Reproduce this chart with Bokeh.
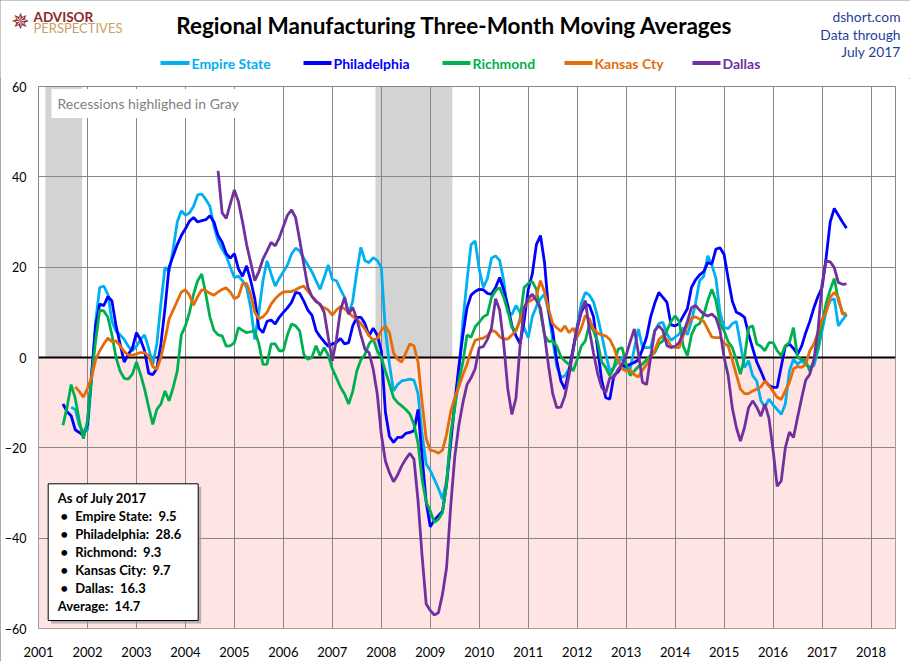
from bokeh.plotting import figure
from bokeh.layouts import column
from bokeh.models import Range1d, FixedTicker, Label, BoxAnnotation, Span
from bokeh.embed import file_html
from bokeh.resources import INLINE

FONT = "Lato"

# ---------------- data (3-month moving averages) ----------------
base_year = 2001
years = list(range(2001, 2019))
y_ticks = [-60, -40, -20, 0, 20, 40, 60]

recession_start = [2001.14, 2007.88]
recession_end = [2001.89, 2009.45]

# first month of each series, as months after Jan 2001
empire_start = 8
philadelphia_start = 6
richmond_start = 6
kansas_start = 9
dallas_start = 44

empire_state = [
    -11, -11.5, -15, -16.5, -16, -5, 8, 15.5, 15.8, 14, 8, 5.8,
    5, 4, 2.5, 1.5, 2.5, 4, 5, 2, -1.5, 3, 12, 20,
    19, 24, 30, 32.5, 31.5, 32, 33.5, 36, 36.2, 35, 33.5, 29,
    25.8, 24, 22.5, 20, 17.7, 18, 17, 15.5, 11, 4, 10, 17,
    21.4, 18.5, 15.8, 17.5, 19, 20.5, 22.9, 24.2, 23.6, 22, 20.5, 19,
    17, 15.1, 17.7, 20.5, 17.3, 17, 15.1, 13.3, 9.6, 12.5, 19, 24.4,
    21.4, 21, 22.1, 21.5, 20, 6, -1.5, -7.4, -6, -5.2, -5, -4.8,
    -5, -8, -17, -23.6, -25, -27, -29, -31.4, -27.3, -18, -11, -3,
    8, 17, 25, 25.8, 19.5, 15.5, 17.5, 22, 22.5, 21.5, 17, 10,
    9.5, 11.5, 10, 6.6, 4.4, 9, 11.3, 13, 14, 10, 4, -2,
    -4.4, -4.1, -2.5, 1.5, 7, 12, 14.4, 13.8, 12.3, 9, 5, 0.7,
    -3, -2.2, -1, 0, -3, -2.5, 2, 6.3, 2.2, 2.2, 2.2, 5.9,
    7.5, 7.8, 5.2, 3.8, 4.5, 5.2, 6.6, 5, 8, 12, 17, 18,
    22.5, 20.5, 17.5, 10, 6.6, 6.4, 7.5, 8, 3, -2.2, -0.7, -4,
    -5.2, -9.5, -11, -9.2, -10.5, -11.5, -12.6, -10.3, -3, -0.4, -1.5, -0.7,
    -1.5, -2.2, -1.8, 1.5, 5.9, 10.3, 12.6, 13, 7, 8.3, 9.5,
]

philadelphia = [
    -10.3, -12, -12.9, -16, -16.6, -17.3, -14.8, -3.7, 7, 11.8, 11.5, 13.5,
    12.5, 7, 3, -1, 0.7, 2, 5.5, 4, 1.5, -3.5, -3.8, -2.5,
    3, 11, 20, 22.5, 25, 27, 28.5, 30.2, 31, 30, 30.3, 30.5,
    31.4, 30, 27, 25.5, 23, 22, 23, 19.6, 18, 20.3, 17, 13,
    6.5, 5.5, 8, 8.3, 7.4, 8.9, 10, 11, 12.2, 14.4, 14.2, 12.5,
    10.5, 9.4, 6, 4.6, 3.5, 2.5, 3, 3.3, 4.2, 3, 3.3, 7,
    8.9, 8.9, 7.5, 4.8, 6.5, 5, 1.5, -12, -17.5, -18.8, -17.7, -17.7,
    -16.8, -16.6, -16.2, -11.5, -22, -32, -37.5, -36, -35, -34, -28, -19,
    -10, -2, 5, 11, 13.8, 14.6, 15.1, 15, 14.2, 14, 15.5, 17.7,
    15, 11.5, 7, 4.8, 3, 8.1, 15, 18.5, 25, 27, 21, 10.3,
    5.9, -0.7, -5.2, -7, -3, 2, 6.5, 10, 11.8, 11.5, 9, 2,
    -5, -8.9, -9.2, -4, -3.2, -1.8, -2, -1.5, -1.1, -0.5, 1.8, 4.5,
    9, 12, 14.4, 13.3, 12.2, 7.2, 7, 7.5, 9.2, 10.8, 15.5, 17.2,
    18.3, 19, 21, 20.7, 24, 24.3, 22.8, 17.5, 12.5, 10, 9.6, 8.9,
    5.2, 2, -1, -3, -5.2, -6.2, -6.6, -6.6, -2, 2.5, 3, 2,
    0.7, 2.5, 5.5, 8, 11, 13.5, 15.5, 22.1, 30, 33, 31.5, 30, 28.6,
]

richmond = [
    -15, -11, -6, -9, -14, -18, -14, -4.4, 3.7, 10.5, 10.3, 8.9,
    5, 0, -3, -4.6, -4.8, -3.7, -1, -3.7, -7, -11, -14.8, -11.5,
    -10.3, -7.4, -9.6, -6.6, -3, 5, 7, 10, 14, 17, 18.5, 14,
    9, 6, 5, 4.8, 2.5, 2.6, 3.3, 6.6, 6, 5.5, 5.7, 5.9,
    3, -1.5, -1.5, 3, 3, 1.5, 1.5, 5, 7.4, 7, 5.9, 0.7,
    -0.4, 0, 2.6, 0.4, 2.2, 0.5, -2.5, -4.5, -6.6, -8.1, -10.3, -7.5,
    -3, -0.5, 0.7, 3, 4.1, 1.5, 0, -3, -5.9, -8.9, -10, -10.7,
    -11.5, -12.5, -14.8, -19, -27, -32, -34, -36.5, -35.8, -34.3, -28, -17,
    -11, -5.2, -1, 5, 4.5, 6.8, 7.8, 9, 9.5, 13.3, 14.8, 15.5,
    13.3, 10.3, 6.6, 5.9, 8.5, 15.5, 16.4, 16.8, 15.1, 10, 5, 3.5,
    3.7, 2.5, 0.2, -0.8, -1.5, -3, -0.5, 2.5, 3.7, 7.4, 5.9, 3.5,
    -1, -2.2, -4.1, -2.2, 1.8, 2.2, -1.5, -4, -3, -2, -1.5, -0.5,
    0.5, 1.1, 3, 3.7, 6, 8, 9.2, 8, 2.5, 0.4, 5, 7,
    7.5, 9.5, 12.6, 15.1, 12.6, 7.5, 5.9, 3.5, 2.2, -0.5, -3.7, 0,
    6.6, 7, 3, 2.5, 1.5, 3.3, 3.3, 1.5, 0.4, 2.6, 3.3, 6.6,
    0, -0.4, -0.7, -3, -0.7, 2.2, 7.4, 12, 15, 17.5, 12.6, 10, 9.3,
]

kansas_city = [
    -6.5, -7.5, -8.8, -6.8, -4.4, -0.5, 1.5, 3, 4.3, 3.5, 3.7, 2.6,
    1.3, 0.6, 0.5, 0.8, 1.1, 1.1, 0.3, -2, -2.6, 0, 4, 8.5,
    10.5, 12.5, 14.5, 15, 13.8, 11.6, 13.5, 15, 14.8, 14.2, 13.8, 14.5,
    15.1, 15.4, 14.5, 13, 13.5, 16.3, 16.4, 14, 10, 8.6, 9, 10,
    11.8, 13, 13.9, 14.5, 14.6, 14.6, 15, 15.5, 15.8, 14.7, 13.6, 12.6,
    11.6, 11, 10.5, 9.4, 10.5, 11.3, 10.8, 9.9, 9.1, 8.5, 7.5, 6.3,
    4.8, 3.9, 4.2, 6, 7, 5.5, 1, -0.4, -1, 1, 3, 2.6,
    -1, -10, -18, -20.5, -20.7, -21.2, -20.5, -17, -12, -8.9, -6.5, -3.8,
    -1.5, 1.5, 3.8, 4.1, 4.3, 4.8, 6, 5.7, 4.6, 4.1, 4.1, 5,
    5.9, 8.2, 11, 12.3, 12.8, 13.7, 17, 14.5, 10.7, 7.5, 6.6, 5.8,
    7, 5.5, 6.5, 4.5, 6.5, 9.3, 8.5, 6.3, 5.4, 5, 4.8, 4,
    2.2, -0.5, -2.5, -3, -2.8, -3.8, -4.3, -2.8, -1.6, 0, 1.5, 4,
    4.8, 4, 2.6, 2.2, 2.2, 4.8, 7.2, 8.7, 9, 8.5, 8, 6.3,
    4.5, 4.4, 4.4, 3.2, 2.5, -0.5, -3.8, -7, -8, -8, -7.4, -7,
    -6.5, -5.2, -6.3, -7.5, -8.8, -9.3, -7.4, -5.5, -2.5, -2, -2.2, -1.5,
    1.5, 3, 5.5, 8.5, 10, 13.3, 14.4, 13.3, 9.6, 9.7,
]

dallas = [
    41.3, 32, 30.8, 34, 37.1, 34.5, 30, 25, 21, 17, 19, 21.8,
    23.6, 25.5, 24.7, 26.5, 29, 31.5, 32.7, 31, 26, 20.7, 15.6, 13.5,
    12.4, 11.8, 10, 4.5, -0.7, 4, 10.5, 13.3, 9.6, 11.1, 8.5, 5,
    1.8, 1.1, -2.5, -8, -17, -22.9, -25.5, -27.5, -26, -24, -22.5, -21.2,
    -22.5, -31.7, -44, -54.6, -56, -57, -56.5, -52.4, -46.5, -33, -22, -15,
    -10, -6, -4.5, -2.5, 2.2, 2.4, 4, 6.5, 13, 10.5, 3, -7,
    -12.6, -9, 2.5, 11, 13, 14, 12.6, 11, 5, -2, -8, -11.1,
    -11, -8.5, -4, 1.5, 6.6, 10.3, 12.6, 6, 1, -3.5, -6.6, -7.8,
    -4.5, -4.4, -2.7, -1.5, 0.5, 3.5, 6.3, 1, -5.5, -6, 0, 5.9,
    7, 6, 2.6, 2.2, 2.5, 3.3, 5.5, 8, 11, 11.5, 10.5, 9.6,
    9.2, 9.6, 8.8, 6, 0, -4, -11.1, -15.5, -18.5, -15.5, -11.1, -9.6,
    -11, -13, -10.3, -13.5, -20.5, -28.5, -27.3, -20, -16.5, -17.7, -13.3, -9,
    -5, -3.7, -0.5, 5.9, 16.2, 21.4, 21.2, 19.9, 16.6, 16.2, 16.3,
]

series_names = ["Empire State", "Philadelphia", "Richmond", "Kansas Cty", "Dallas"]
box_names = ["Empire State", "Philadelphia", "Richmond", "Kansas City", "Dallas"]
series_values = [empire_state, philadelphia, richmond, kansas_city, dallas]
series_starts = [empire_start, philadelphia_start, richmond_start, kansas_start, dallas_start]
series_colors = ["#00B0F0", "#0000FF", "#00B050", "#E46C0A", "#7030A0"]
title_text = "Regional Manufacturing Three-Month Moving Averages"
as_of = "As of July 2017"
source_lines = ["dshort.com", "Data through", "July 2017"]

NB = "\u00a0"
W = 910
H = 661
HDR_H = 78

# ---------------- header (title, logo, legend) ----------------
hdr = figure(width=W, height=HDR_H, x_range=Range1d(0, W), y_range=Range1d(HDR_H, 0),
             x_axis_type=None, y_axis_type=None, output_backend="svg", toolbar_location=None,
             min_border=0, outline_line_color=None,
             background_fill_color="white", border_fill_color="white")
hdr.frame_align = False


def hlabel(X, Y, text, size, color="#000000", bold=False, align="left", font=FONT):
    hdr.add_layout(Label(x=X, y=Y, text=text, text_font=font, text_font_size=size,
                         text_color=color, text_font_style="bold" if bold else "normal",
                         text_align=align, text_baseline="middle"))


hlabel(454, 25, title_text, "22.5px", bold=True, align="center")
hlabel(20, 21, "\u2735", "22px", color="#8B2A2A", align="center", font="DejaVu Sans")
hlabel(33, 16.5, "ADVISOR", "13.5px", color="#8B2A2A", bold=True)
hlabel(33, 27.5, "PERSPECTIVES", "13px", color="#C8A165")
for yy, t in zip([16, 34, 51], source_lines):
    hlabel(900, yy, t, "13.8px", color="#1F3F99", align="right")

legend_x0 = [160, 303, 442, 564, 692]
legend_x1 = [189, 331, 470, 592, 720]
LY = 62.5
hdr.segment(x0=legend_x0, y0=[LY] * 5, x1=legend_x1, y1=[LY] * 5,
            line_color=series_colors, line_width=4)
for b, name, col in zip(legend_x1, series_names, series_colors):
    hlabel(b + 2, LY, name, "14px", color=col, bold=True)

# ---------------- main chart ----------------
X0, X1 = 2001, 2018.5
Y0, Y1 = -60, 60
TOP, FRAME_H = 8, 542
BOT = H - HDR_H - TOP - FRAME_H

p = figure(width=W, height=H - HDR_H, x_range=Range1d(X0, X1), y_range=Range1d(Y0, Y1),
           output_backend="svg", toolbar_location=None,
           min_border_left=38, min_border_right=15, min_border_top=TOP, min_border_bottom=BOT,
           background_fill_color="white", border_fill_color="white")
p.frame_align = False
p.outline_line_color = "#878787"
p.outline_line_width = 1

GRID = "#878787"
for ax in (p.xaxis, p.yaxis):
    ax.axis_line_color = None
    ax.major_tick_line_color = None
    ax.minor_tick_line_color = None
    ax.major_label_text_font = FONT
    ax.major_label_text_color = "#000000"

p.xaxis.ticker = FixedTicker(ticks=years)
p.xaxis.major_label_standoff = 12
p.xaxis.major_label_text_font_size = "13px"
p.yaxis.ticker = FixedTicker(ticks=y_ticks)
p.yaxis.major_label_standoff = 6
p.yaxis.major_label_text_font_size = "12.5px"

p.xgrid.ticker = FixedTicker(ticks=years)
p.ygrid.ticker = FixedTicker(ticks=y_ticks)
for g in (p.xgrid, p.ygrid):
    g.grid_line_color = GRID
    g.grid_line_width = 1

# pink negative zone and recession bands (below the grid)
p.add_layout(BoxAnnotation(top=0, fill_color="#FFE4E4", fill_alpha=1.0,
                           line_color=None, level="image"))
p.quad(left=recession_start, right=recession_end, bottom=Y0, top=Y1,
       fill_color="#979797", fill_alpha=0.42, line_color=None, level="image")

p.add_layout(Span(location=0, dimension="width", line_color="black",
                  line_width=2, level="underlay"))

for vals, start, col in zip(series_values, series_starts, series_colors):
    xs = [base_year + (start + i) / 12 for i in range(len(vals))]
    p.line(xs, vals, line_color=col, line_width=2.8)

# in-frame texts (screen units relative to the plot frame)
FL, FB = 38, HDR_H + TOP + FRAME_H  # page position of frame left / bottom


def sx(X):
    return X - FL


def sy(Y):
    return FB - Y


def label(X, Y, text, size, color="#000000", bold=False, align="left", font=FONT, **kw):
    p.add_layout(Label(x=sx(X), y=sy(Y), x_units="screen", y_units="screen", text=text,
                       text_font=font, text_font_size=size, text_color=color,
                       text_font_style="bold" if bold else "normal",
                       text_align=align, text_baseline="middle", **kw))


label(51, 103, "Recessions highlighed in Gray", "14px", color="#7F7F7F",
      background_fill_color="white", background_fill_alpha=1.0, padding=6)

bl, br, bt, bb = 47.7, 197.7, 483.3, 620
p.add_layout(BoxAnnotation(left=sx(bl + 3), right=sx(br + 3), top=sy(bt + 3), bottom=sy(bb + 3),
                           left_units="screen", right_units="screen",
                           top_units="screen", bottom_units="screen",
                           fill_color="#9A9A9A", fill_alpha=0.7, line_color=None))
p.add_layout(BoxAnnotation(left=sx(bl), right=sx(br), top=sy(bt), bottom=sy(bb),
                           left_units="screen", right_units="screen",
                           top_units="screen", bottom_units="screen",
                           fill_color="white", fill_alpha=1.0,
                           line_color="black", line_width=1, line_alpha=1.0))

last_vals = [v[-1] for v in series_values]
BOX_FS = "13px"
label(57.3, 497, as_of, BOX_FS, bold=True)
for i, (name, v) in enumerate(zip(box_names, last_vals)):
    yy = 515 + i * 18.1
    label(60, yy, "\u2022", BOX_FS, bold=True)
    label(74.7, yy, f"{name}:{NB}{NB}{v:.1f}", BOX_FS, bold=True)
avg = sum(last_vals) / len(last_vals)
label(57.3, 605, f"Average:{NB}{NB}{avg:.1f}", BOX_FS, bold=True)

page = column(hdr, p, spacing=0)
page.styles = {"outline": "1px solid #8c8c8c", "outline-offset": "-1px"}

open("out.html", "w").write(file_html(page, INLINE))
